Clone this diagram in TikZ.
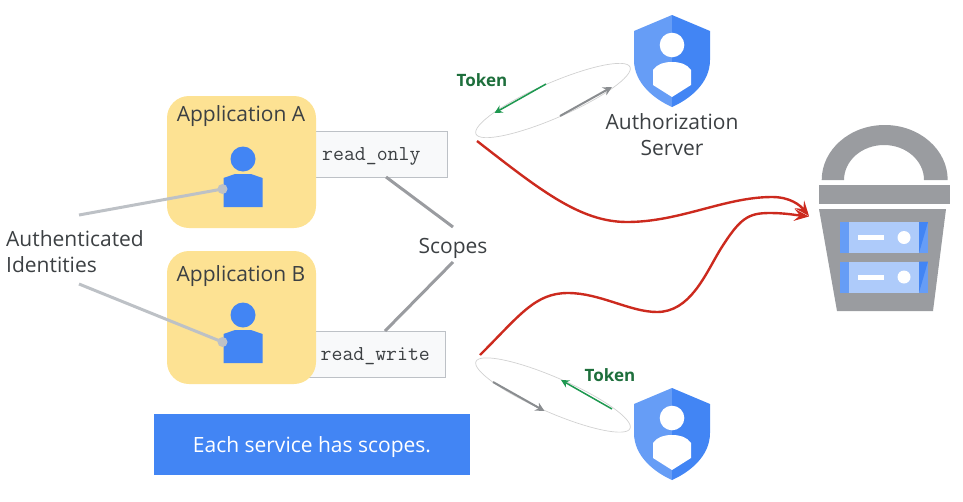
\documentclass[tikz,border=0pt]{standalone}
\usepackage{fontspec}
\setmainfont{Open Sans}
\usetikzlibrary{shapes.geometric,arrows.meta}
\definecolor{ybox}{HTML}{FDE293}
\definecolor{gblue}{HTML}{4285F4}
\definecolor{lblue}{HTML}{669DF6}
\definecolor{pblue}{HTML}{AECBFA}
\definecolor{gtext}{HTML}{3C4043}
\definecolor{lgrey}{HTML}{BDC1C6}
\definecolor{mgrey}{HTML}{9A9CA0}
\definecolor{dgrey}{HTML}{8A8D90}
\definecolor{pale}{HTML}{F8F9FA}
\definecolor{tgreen}{HTML}{1E6F3C}
\definecolor{agreen}{HTML}{1E9850}
\definecolor{cred}{HTML}{CC2A1E}
\tikzset{
  x=1pt,y=-1pt,
  appbox/.style={fill=ybox,rounded corners=22pt},
  label/.style={text=gtext,font=\fontsize{21}{26}\selectfont,inner sep=0pt,align=center},
  scopebox/.style={fill=pale,draw=lgrey,line width=0.9pt},
  code/.style={text=gtext,font=\ttfamily\fontsize{21.2}{24}\selectfont,inner sep=0pt,anchor=base west},
  idline/.style={draw=lgrey,line width=3pt},
  scline/.style={draw=mgrey,line width=3pt},
  dot/.style={circle,fill=lgrey,minimum size=10pt,inner sep=0pt},
  orbit/.style={ellipse,draw=black!18,line width=0.7pt,minimum width=168pt,minimum height=35pt,inner sep=0pt},
  tokenlabel/.style={text=tgreen,font=\bfseries\fontsize{17}{20}\selectfont,inner sep=0pt},
  garrow/.style={draw=agreen,line width=1.5pt,-{Stealth[length=8pt,width=8pt]}},
  grarrow/.style={draw=dgrey,line width=2pt,-{Stealth[length=9pt,width=9pt]}},
  redline/.style={draw=cred,line width=2.4pt,-{Stealth[length=15pt,width=12pt,inset=6pt]}},
  pics/person/.style={code={
    \fill[gblue] (0,-29) circle (12.5);
    \fill[gblue] (-19.5,-10) -- (-8,-14) -- (8,-14) -- (19.5,-10) -- (19.5,19) -- (-19.5,19) -- cycle;
  }},
  pics/shield/.style={code={
    \fill[lblue] (0,0) -- (-38,16) -- (-38,45) .. controls (-38,68) and (-18,84) .. (0,92) -- cycle;
    \fill[gblue] (0,0) -- (38,16) -- (38,45) .. controls (38,68) and (18,84) .. (0,92) -- cycle;
    \fill[white] (0,30) circle (12.3);
    \fill[white] (0,47) .. controls (8,47) and (15,49) .. (19,55) -- (19,70) -- (0,82) -- (-19,70) -- (-19,55) .. controls (-15,49) and (-8,47) .. (0,47) -- cycle;
  }},
  pics/server/.style={code={
    \fill[pblue] (0,0) rectangle (88,31);
    \fill[lblue] (0,0) rectangle (9,31);
    \fill[lblue] (79,0) rectangle (88,31);
    \fill[gblue] (79,31) -- (88,0) -- (79,0) -- cycle;
    \fill[white] (18,13) rectangle (44,18);
    \fill[white] (64,15.5) circle (6.5);
  }}
}
\begin{document}
\begin{tikzpicture}
\useasboundingbox (0,0) rectangle (963,501);

% scope boxes (behind the application tiles)
\draw[scopebox] (300,131) rectangle (447.5,177);
\draw[scopebox] (300,331) rectangle (445.5,377);

% application tiles
\fill[appbox] (167,96) rectangle (316,228);
\fill[appbox] (167,251) rectangle (316,384);
\node[label] (appA) at (241,116) {Application A};
\node[label] (appB) at (241,276) {Application B};
\pic at (243,188) {person};
\pic at (243,344) {person};

\node[code] (ro) at (322,160) {read\_only};
\node[code] (rw) at (320.5,360) {read\_write};

% labels
\node[label,align=left,anchor=north west] (auth) at (6,230.5) {Authenticated\\Identities};
\node[label] (scopes) at (453,248) {Scopes};

% identity leaders
\coordinate (idA) at (79,215);
\coordinate (idB) at (79,284);
\node[dot] (dotA) at (222.5,189) {};
\node[dot] (dotB) at (222.5,342) {};
\draw[idline] (idA) -- (dotA.center);
\draw[idline] (idB) -- (dotB.center);

% scope leaders
\coordinate (scA) at (386,177);
\coordinate (scB) at (385,331);
\coordinate (scT) at (453,227);
\coordinate (scD) at (453,262);
\draw[scline] (scA) -- (scT);
\draw[scline] (scB) -- (scD);

% banner
\node[fill=gblue,minimum width=316pt,minimum height=61pt,inner sep=0pt] (banner) at (312,444.5) {};
\node[text=white,inner sep=0pt,font=\fontsize{21}{24}\selectfont] (bannertext) at (312,447) {Each service has scopes.};

% authorization servers
\pic at (672,15) {shield};
\pic at (672,388) {shield};
\node[label] (as) at (672,135) {Authorization\\Server};

% token orbits
\node[orbit,rotate=23.5] (orbA) at (553,100.5) {};
\node[orbit,rotate=-23.5] (orbB) at (553,395) {};
\node[tokenlabel] (tokA) at (482,80) {Token};
\node[tokenlabel] (tokB) at (610,375) {Token};
\coordinate (gA1) at (546,84); \coordinate (gA2) at (494.5,113);
\coordinate (pA1) at (560,116); \coordinate (pA2) at (612,87);
\coordinate (gB1) at (612,409); \coordinate (gB2) at (561,380);
\coordinate (pB1) at (493,382); \coordinate (pB2) at (544.5,411);
\draw[garrow] (gA1) -- (gA2);
\draw[grarrow] (pA1) -- (pA2);
\draw[garrow] (gB1) -- (gB2);
\draw[grarrow] (pB1) -- (pB2);

% bucket
\fill[mgrey] (821.7,180) arc[start angle=180,end angle=0,x radius=63,y radius=-55] -- (924,180) arc[start angle=0,end angle=180,x radius=40,y radius=-35] -- cycle;
\fill[mgrey] (819,185) rectangle (950,203.5);
\fill[mgrey] (819,209) -- (946,209) -- (933,311) -- (837,311) -- cycle;
\pic at (840,222) {server};
\pic at (840,261.5) {server};
\coordinate (bucketA) at (809,216);
\coordinate (bucketB) at (809,216.5);

% requests
\coordinate (reqA) at (477,141);
\coordinate (reqB) at (480,355);
\draw[redline] (reqA) .. controls (540,190) and (580,222) .. (627,222)
  .. controls (680,222) and (725,197) .. (772,197)
  .. controls (790,197) and (800,205) .. (bucketA);
\draw[redline] (reqB) .. controls (520,315) and (535,293) .. (568,293)
  .. controls (600,293) and (630,312) .. (657,312)
  .. controls (690,312) and (705,275) .. (720,250)
  .. controls (740,218) and (748,213) .. (770,213)
  .. controls (785,213) and (795,215) .. (bucketB);
\end{tikzpicture}
\end{document}
